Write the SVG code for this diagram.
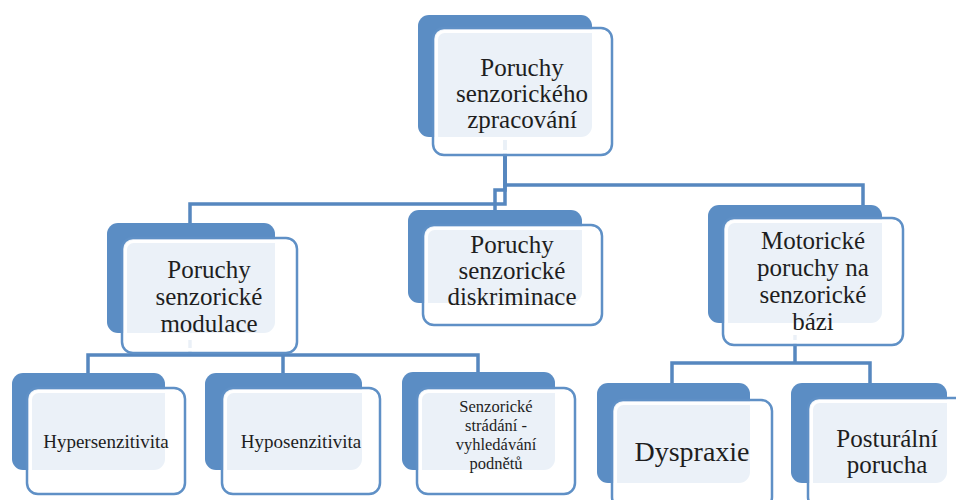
<svg xmlns="http://www.w3.org/2000/svg" width="956" height="500" viewBox="0 0 956 500">
<style>
.bk{fill:#5b8dc4;}
.fr{fill:#ffffff;fill-opacity:0.88;stroke:#5f90c6;stroke-width:2.5;}
.in{fill:none;stroke:#ffffff;stroke-width:3;}
.cn{fill:none;stroke:#5687bf;stroke-width:3.5;stroke-linejoin:miter;}
text{fill:#1e1e1e;text-anchor:middle;}
.t25{font-size:25px;}
.t19{font-size:19px;}
.t16{font-size:16.5px;}
</style>
<rect width="956" height="500" fill="#ffffff"/>
<g id="connectors">
<path class="cn" d="M505,140 V185 H863 V207"/>
<path class="cn" d="M505,140 V190 H495 V212"/>
<path class="cn" d="M505,140 V204 H190 V225"/>
<path class="cn" d="M190,340 V355"/>
<path class="cn" d="M88,374 V355 H478 V374"/>
<path class="cn" d="M283,355 V374"/>
<path class="cn" d="M795,335 V363"/>
<path class="cn" d="M672,385 V363 H870 V385"/>
</g>
<g id="n-root">
<rect class="bk" x="418" y="15" width="174" height="122" rx="11"/>
<rect class="fr" x="433" y="28" width="179" height="127" rx="11"/>
<rect class="in" x="436.5" y="31.5" width="172" height="120" rx="8"/>
<text class="t25" x="522" y="76" style="font-family:'Times New Roman','Liberation Serif',Tinos,serif">Poruchy</text>
<text class="t25" x="522" y="102" style="font-family:'Times New Roman','Liberation Serif',Tinos,serif">senzorického</text>
<text class="t25" x="522" y="128" style="font-family:'Times New Roman','Liberation Serif',Tinos,serif">zpracování</text>
</g>
<g id="n-modulace">
<rect class="bk" x="107" y="223" width="168" height="110" rx="11"/>
<rect class="fr" x="122" y="238" width="175" height="115" rx="11"/>
<rect class="in" x="125.5" y="241.5" width="168" height="108" rx="8"/>
<text class="t25" x="209" y="278" style="font-family:'Times New Roman','Liberation Serif',Tinos,serif">Poruchy</text>
<text class="t25" x="209" y="305" style="font-family:'Times New Roman','Liberation Serif',Tinos,serif">senzorické</text>
<text class="t25" x="209" y="332" style="font-family:'Times New Roman','Liberation Serif',Tinos,serif">modulace</text>
</g>
<g id="n-diskriminace">
<rect class="bk" x="408" y="210" width="174" height="93" rx="11"/>
<rect class="fr" x="423" y="225" width="179" height="100" rx="11"/>
<rect class="in" x="426.5" y="228.5" width="172" height="93" rx="8"/>
<text class="t25" x="512" y="253" style="font-family:'Times New Roman','Liberation Serif',Tinos,serif">Poruchy</text>
<text class="t25" x="512" y="279" style="font-family:'Times New Roman','Liberation Serif',Tinos,serif">senzorické</text>
<text class="t25" x="512" y="305" style="font-family:'Times New Roman','Liberation Serif',Tinos,serif">diskriminace</text>
</g>
<g id="n-motoricke">
<rect class="bk" x="708" y="205" width="174" height="118" rx="11"/>
<rect class="fr" x="723" y="218" width="180" height="127" rx="11"/>
<rect class="in" x="726.5" y="221.5" width="173" height="120" rx="8"/>
<text class="t25" x="813" y="249" style="font-family:'Times New Roman','Liberation Serif',Tinos,serif">Motorické</text>
<text class="t25" x="813" y="276" style="font-family:'Times New Roman','Liberation Serif',Tinos,serif">poruchy na</text>
<text class="t25" x="813" y="303" style="font-family:'Times New Roman','Liberation Serif',Tinos,serif">senzorické</text>
<text class="t25" x="813" y="330" style="font-family:'Times New Roman','Liberation Serif',Tinos,serif">bázi</text>
</g>
<g id="n-hyper">
<rect class="bk" x="12" y="373" width="153" height="97" rx="11"/>
<rect class="fr" x="27" y="388" width="158" height="106" rx="11"/>
<rect class="in" x="30.5" y="391.5" width="151" height="99" rx="8"/>
<text class="t19" x="106" y="448" style="font-family:'Times New Roman','Liberation Serif',Tinos,serif">Hypersenzitivita</text>
</g>
<g id="n-hypo">
<rect class="bk" x="205" y="373" width="157" height="97" rx="11"/>
<rect class="fr" x="222" y="388" width="158" height="106" rx="11"/>
<rect class="in" x="225.5" y="391.5" width="151" height="99" rx="8"/>
<text class="t19" x="301" y="448" style="font-family:'Times New Roman','Liberation Serif',Tinos,serif">Hyposenzitivita</text>
</g>
<g id="n-stradani">
<rect class="bk" x="402" y="372" width="153" height="98" rx="11"/>
<rect class="fr" x="417" y="388" width="158" height="106" rx="11"/>
<rect class="in" x="420.5" y="391.5" width="151" height="99" rx="8"/>
<text class="t16" x="496" y="412" style="font-family:'Times New Roman','Liberation Serif',Tinos,serif">Senzorické</text>
<text class="t16" x="496" y="431" style="font-family:'Times New Roman','Liberation Serif',Tinos,serif">strádání -</text>
<text class="t16" x="496" y="450" style="font-family:'Times New Roman','Liberation Serif',Tinos,serif">vyhledávání</text>
<text class="t16" x="496" y="469" style="font-family:'Times New Roman','Liberation Serif',Tinos,serif">podnětů</text>
</g>
<g id="n-dyspraxie">
<rect class="bk" x="597" y="383" width="153" height="100" rx="11"/>
<rect class="fr" x="612" y="400" width="160" height="108" rx="11"/>
<rect class="in" x="615.5" y="403.5" width="153" height="101" rx="8"/>
<text x="692" y="461" style="font-family:'Times New Roman','Liberation Serif',Tinos,serif;font-size:28px">Dyspraxie</text>
</g>
<g id="n-posturalni">
<rect class="bk" x="791" y="383" width="156" height="100" rx="11"/>
<rect class="fr" x="808" y="398" width="160" height="110" rx="11"/>
<rect class="in" x="811.5" y="401.5" width="153" height="103" rx="8"/>
<text class="t25" x="887" y="447" style="font-family:'Times New Roman','Liberation Serif',Tinos,serif">Posturální</text>
<text class="t25" x="887" y="473" style="font-family:'Times New Roman','Liberation Serif',Tinos,serif">porucha</text>
</g>
</svg>
